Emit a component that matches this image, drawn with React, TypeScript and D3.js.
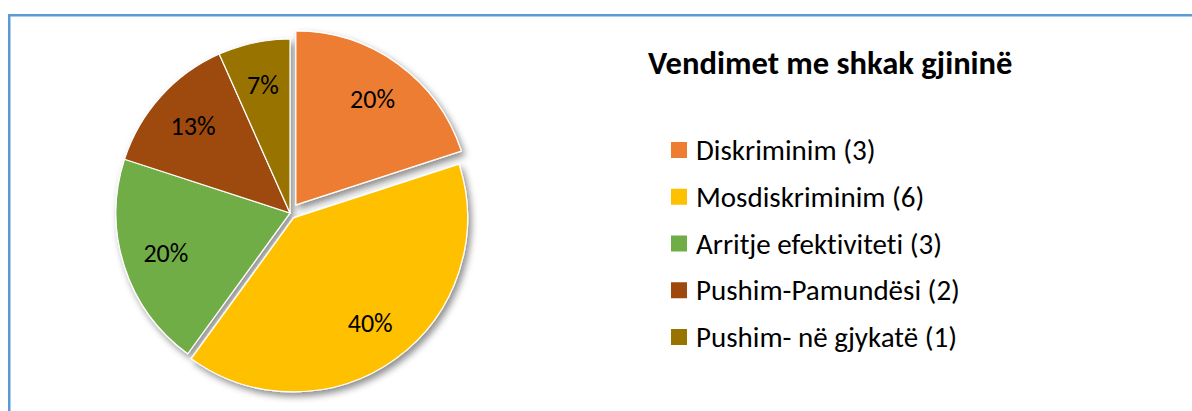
import React from "react";
import * as d3 from "d3";

const categories = [
  "Diskriminim",
  "Mosdiskriminim",
  "Arritje efektiviteti",
  "Pushim-Pamundësi",
  "Pushim- në gjykatë",
];
const counts = [3, 6, 3, 2, 1];
const colors = ["#ED7D31", "#FFC000", "#70AD47", "#9E480E", "#997300"];
const explode = [10, 6, 0, 0, 0];
const title = "Vendimet me shkak gjininë";

const FONT = "Calibri, Carlito, Lato, sans-serif";
const textStyle = { fontVariantLigatures: "none" as const };

export default function App() {
  const W = 1192;
  const H = 411;
  const cx = 290;
  const cy = 213;
  const r = 174;
  const total = d3.sum(counts);
  const pieData = d3
    .pie<number>()
    .sort(null)
    .value((d) => d)(counts);
  const arc = d3
    .arc<d3.PieArcDatum<number>>()
    .innerRadius(0)
    .outerRadius(r);
  const labelArc = d3
    .arc<d3.PieArcDatum<number>>()
    .innerRadius(r * 0.75)
    .outerRadius(r * 0.75);
  const fmt = d3.format(".0%");
  const legendY = d3
    .scalePoint<string>()
    .domain(categories)
    .range([150, 337]);

  const offset = (d: d3.PieArcDatum<number>, i: number) => {
    const a = (d.startAngle + d.endAngle) / 2;
    return [Math.sin(a) * explode[i], -Math.cos(a) * explode[i]];
  };

  return (
    <svg
      width={W}
      height={H}
      style={{ position: "absolute", left: 0, top: 0, background: "#fff" }}
    >
      <defs>
        <filter id="sh" x="-20%" y="-20%" width="140%" height="140%">
          <feDropShadow
            dx={3}
            dy={4}
            stdDeviation={3.5}
            floodColor="#000"
            floodOpacity={0.45}
          />
        </filter>
      </defs>
      <rect
        x={9.25}
        y={15.25}
        width={1400}
        height={600}
        fill="#fff"
        stroke="#5B9BD5"
        strokeWidth={2.5}
      />
      <g transform={`translate(${cx},${cy})`}>
        <g filter="url(#sh)">
          {pieData.map((d, i) => {
            const [ox, oy] = offset(d, i);
            return (
              <path
                key={i}
                d={arc(d) as string}
                transform={`translate(${ox},${oy})`}
                fill={colors[i]}
                stroke="#fff"
                strokeWidth={1.2}
              />
            );
          })}
        </g>
        {pieData.map((d, i) => {
          const [ox, oy] = offset(d, i);
          const [lx, ly] = labelArc.centroid(d);
          return (
            <text
              key={i}
              x={lx + ox}
              y={ly + oy}
              textAnchor="middle"
              dominantBaseline="central"
              fontFamily={FONT}
              fontSize={26}
              fill="#000"
              style={textStyle}
            >
              {fmt(d.data / total)}
            </text>
          );
        })}
      </g>
      <text
        x={648}
        y={74}
        fontFamily={FONT}
        fontWeight="bold"
        fontSize={32.6}
        fill="#000"
        style={textStyle}
      >
        {title}
      </text>
      {categories.map((c, i) => (
        <g key={c} transform={`translate(671,${legendY(c)})`}>
          <rect x={0} y={-8} width={16} height={16} fill={colors[i]} />
          <text
            x={25}
            y={10}
            fontFamily={FONT}
            fontSize={29}
            fill="#000"
            style={textStyle}
          >
            {`${c} (${counts[i]})`}
          </text>
        </g>
      ))}
    </svg>
  );
}
